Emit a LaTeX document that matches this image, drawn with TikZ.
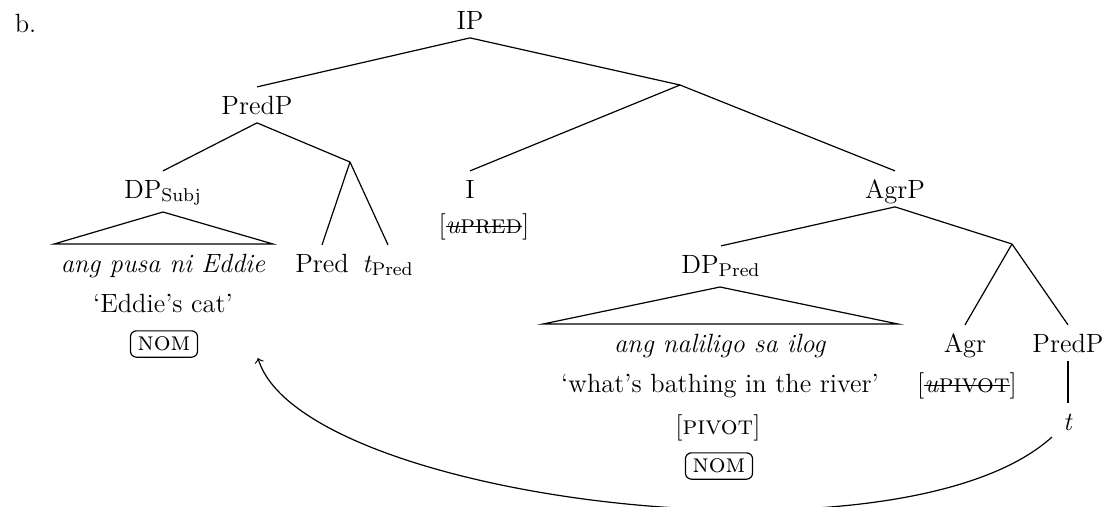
\documentclass[tikz,border=0pt]{standalone}
\usepackage{fontspec}
\newcommand\mystrike[1]{\setbox0=\hbox{#1}\rlap{\rule[0.55ex]{\wd0}{0.5pt}}\box0}
\begin{document}
\begin{tikzpicture}[x=0.41667pt,y=-0.41667pt,
  every node/.style={font=\fontsize{11}{13.6}\selectfont},
  tl/.style={anchor=base, inner xsep=1pt, inner ysep=3.5pt, text height=7.6pt, text depth=0pt},
  tx/.style={anchor=base, inner sep=1pt},
  nombox/.style={draw, rounded corners=2.5pt, inner xsep=3pt, inner ysep=2.5pt, line width=0.5pt},
  br/.style={line width=0.5pt}]
\useasboundingbox (0,0) rectangle (1102,506);
% labels
\node[tx, anchor=base west] (b) at (12,32) {b.};
\node[tl] (IP) at (470,29) {IP};
\coordinate (B0) at (680,85);
\node[tl] (PredP) at (257,114) {PredP};
\node[tl] (DPs) at (163,198) {DP\textsubscript{Subj}};
\coordinate (B1) at (350,162);
\node[tl] (Pred) at (322,272) {Pred};
\node[tl] (tPred) at (388,272) {\textit{t}\textsubscript{Pred}};
\node[tl] (I) at (470,198) {I};
\node[tx] (uPred) at (484,233) {[\mystrike{\textit{u}\textsc{pred}}]};
\node[tl] (AgrP) at (895,198) {AgrP};
\node[tl] (DPp) at (721,273) {DP\textsubscript{Pred}};
\coordinate (B2) at (1012,244);
\node[tl] (Agr) at (965,352) {Agr};
\node[tx] (uPiv) at (967,392) {[\mystrike{\textit{u}\textsc{pivot}}]};
\node[tl] (PredP2) at (1068,352) {PredP};
\node[tl] (t2) at (1068,430) {\textit{t}};
% texts
\node[tx] (pusa) at (163,272) {\textit{ang pusa ni Eddie}};
\node[tx] (cat) at (163,312) {`Eddie's cat'};
\node[nombox] (nom1) at (164,344) {\textsc{nom}};
\node[tx] (nal) at (720,352) {\textit{ang naliligo sa ilog}};
\node[tx] (bath) at (720,392) {`what's bathing in the river'};
\node[tx] (piv) at (718,434) {[\textsc{pivot}]};
\node[nombox] (nom2) at (719,466) {\textsc{nom}};
% branches
\draw[br] (IP.south) -- (PredP.north);
\draw[br] (IP.south) -- (B0);
\draw[br] (B0) -- (I.north);
\draw[br] (B0) -- (AgrP.north);
\draw[br] (PredP.south) -- (DPs.north);
\draw[br] (PredP.south) -- (B1);
\draw[br] (B1) -- (Pred.north);
\draw[br] (B1) -- (tPred.north);
\draw[br] (AgrP.south) -- (DPp.north);
\draw[br] (AgrP.south) -- (B2);
\draw[br] (B2) -- (Agr.north);
\draw[br] (B2) -- (PredP2.north);
\draw[br] (PredP2.south) -- (t2.north);
% triangles
\coordinate (T1a) at (163,212);
\coordinate (T1l) at (54,244);
\coordinate (T1r) at (273,244);
\draw[br] (T1a) -- (T1l) -- (T1r) -- cycle;
\coordinate (T2a) at (720,287);
\coordinate (T2l) at (543,324);
\coordinate (T2r) at (898,324);
\draw[br] (T2a) -- (T2l) -- (T2r) -- cycle;
% movement arrow
\coordinate (arrS) at (1052,437);
\coordinate (arrE) at (258,358);
\draw[br,->] (arrS) .. controls (900,575) and (300,500) .. (arrE);
\end{tikzpicture}
\end{document}
